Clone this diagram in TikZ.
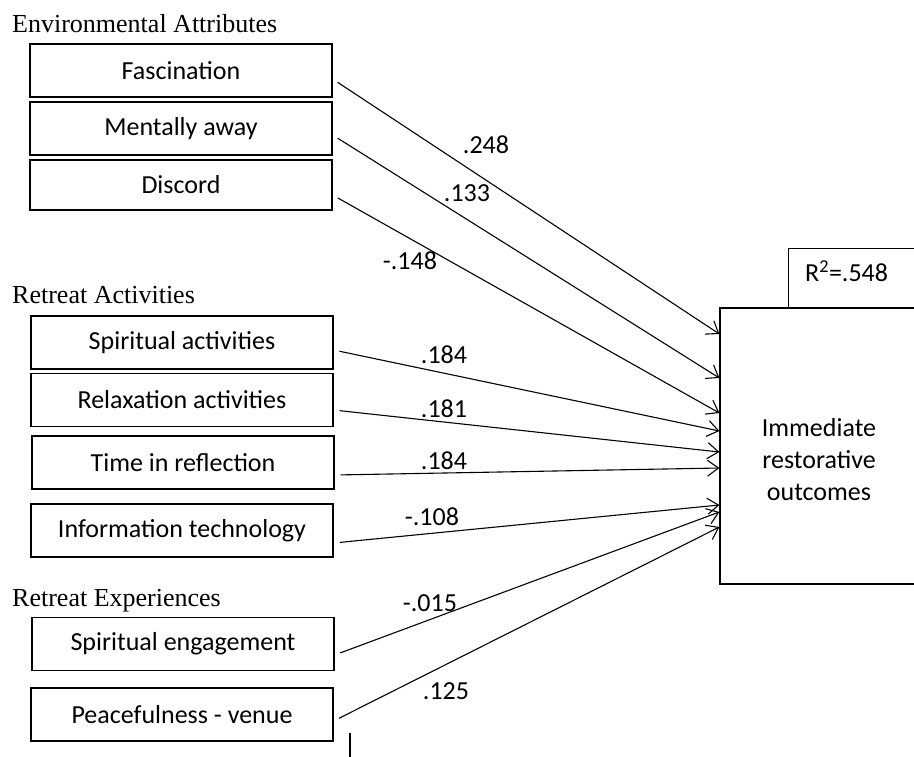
\documentclass[tikz,border=0pt]{standalone}
\usepackage{fontspec}
\setmainfont{Carlito}
\newfontfamily\headfont{Liberation Serif}
\usetikzlibrary{arrows.meta,positioning}

\begin{document}
\begin{tikzpicture}[x=1pt, y=-1pt,
    factor/.style={rectangle, draw=black, line width=1.2pt, minimum width=302pt, minimum height=53pt, inner sep=0pt, font=\fontsize{26}{32}\selectfont},
    heading/.style={anchor=base west, inner sep=0pt, font=\headfont\fontsize{26}{32}\selectfont},
    coef/.style={inner sep=0pt, font=\fontsize{26}{32}\selectfont},
    arrow/.style={-{Straight Barb[length=11pt,width=16pt]}, line width=1.1pt, shorten <=6pt}
]
\useasboundingbox (0,0) rectangle (914,756);
\clip (0,0) rectangle (914,756);

% group headings
\node[heading] (envhead) at (12,32) {Environmental Attributes};
\node[heading] (acthead) at (12,303) {Retreat Activities};
\node[heading] (exphead) at (12,606) {Retreat Experiences};

% predictors
\node[factor] (fasc) at (181,70.5) {Fascination};
\node[factor] (away) at (181,128.5) {Mentally away};
\node[factor, minimum height=50pt] (disc) at (181,185) {Discord};

\node[factor] (spirit) at (182,342.5) {Spiritual activities};
\node[factor] (relax) at (182,400) {Relaxation activities};
\node[factor] (reflect) at (183,462.5) {Time in reflection};
\node[factor] (infotech) at (182,530.5) {Information technology};

\node[factor] (engage) at (183,644) {Spiritual engagement};
\node[factor] (peace) at (182,714.5) {Peacefulness - venue};

% outcome
\node[draw, line width=1.2pt, minimum width=198pt, minimum height=276pt,
    label={[coef, align=center, yshift=-14pt]center:Immediate\\restorative\\outcomes}] (outcome) at (819,446) {};
\node[draw, line width=1.2pt, anchor=north west, minimum width=150pt, minimum height=60pt,
    label={[coef, anchor=west, xshift=17pt, yshift=7pt]west:R\textsuperscript{2}=.548}] (rsq) at (788,248) {};

% paths
\draw[arrow] ([shift={(0,8.5)}]fasc.east) -- ([shift={(0,-112)}]outcome.west);
\draw[arrow] ([shift={(0,6.5)}]away.east) -- ([shift={(0,-68)}]outcome.west);
\draw[arrow] ([shift={(0,10)}]disc.east) -- ([shift={(0,-33)}]outcome.west);
\draw[arrow] ([shift={(0,7.5)}]spirit.east) -- ([shift={(0,-15)}]outcome.west);
\draw[arrow] ([shift={(0,10)}]relax.east) -- ([shift={(0,6)}]outcome.west);
\draw[arrow] ([shift={(0,12.5)}]reflect.east) -- ([shift={(0,22)}]outcome.west);
\draw[arrow] ([shift={(0,12.5)}]infotech.east) -- ([shift={(0,59)}]outcome.west);
\draw[arrow] ([shift={(0,11)}]engage.east) -- ([shift={(0,66)}]outcome.west);
\draw[arrow] ([shift={(0,6.5)}]peace.east) -- ([shift={(0,81)}]outcome.west);

% coefficients
\node[coef] (cfasc) at (486,145) {.248};
\node[coef] (caway) at (467,193) {.133};
\node[coef] (cdisc) at (410,261) {-.148};
\node[coef] (cspirit) at (444,355) {.184};
\node[coef] (crelax) at (444,409) {.181};
\node[coef] (creflect) at (444,461) {.184};
\node[coef] (cinfo) at (432,517) {-.108};
\node[coef] (cengage) at (430,603) {-.015};
\node[coef] (cpeace) at (446,691) {.125};

% stray tick below the last box
\coordinate (tick) at (350,733);
\draw[line width=1.2pt] (tick) -- ++(0,30);
\end{tikzpicture}
\end{document}
